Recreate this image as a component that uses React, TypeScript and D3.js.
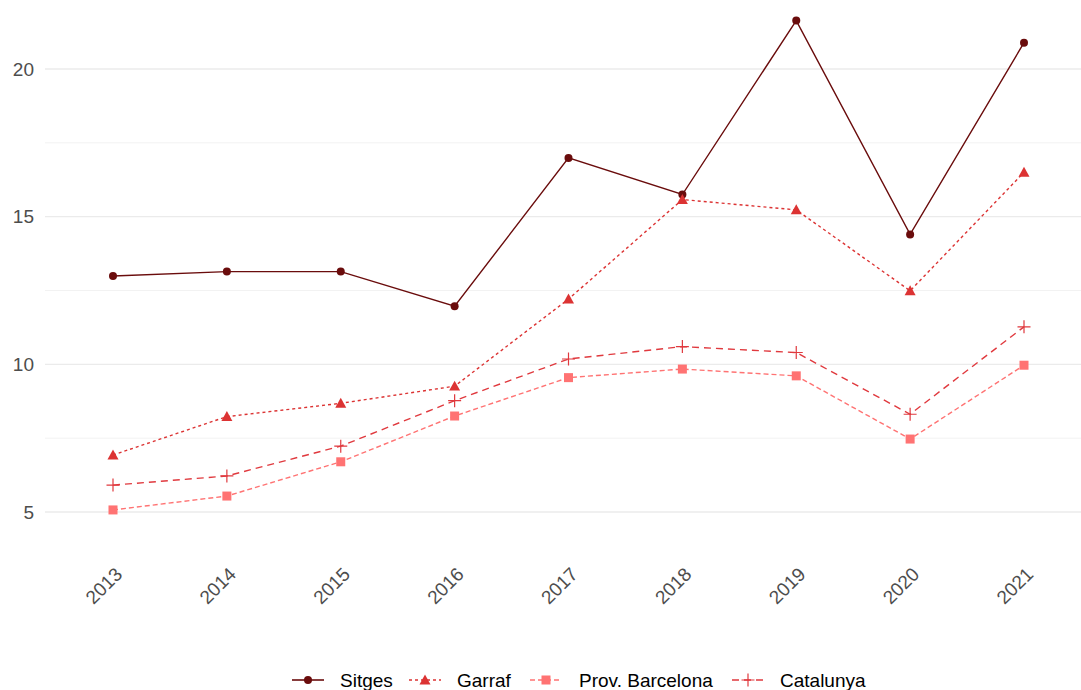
import React from "react";
import * as d3 from "d3";

const years = ["2013", "2014", "2015", "2016", "2017", "2018", "2019", "2020", "2021"];
const sitges = [12.99, 13.14, 13.14, 11.97, 16.99, 15.75, 21.64, 14.4, 20.89];
const garraf = [6.93, 8.23, 8.68, 9.26, 12.21, 15.58, 15.23, 12.49, 16.5];
const provBarcelona = [5.07, 5.54, 6.7, 8.25, 9.55, 9.84, 9.61, 7.47, 9.97];
const catalunya = [5.91, 6.22, 7.23, 8.77, 10.18, 10.6, 10.4, 8.31, 11.27];
const yTicks = [5, 10, 15, 20];
const yMinor = [7.5, 12.5, 17.5];

type Shape = "circle" | "triangle" | "square" | "cross";
const seriesList: { name: string; values: number[]; color: string; dash: string; shape: Shape }[] = [
  { name: "Sitges", values: sitges, color: "#6A0C0C", dash: "", shape: "circle" },
  { name: "Garraf", values: garraf, color: "#DC3333", dash: "3,3", shape: "triangle" },
  { name: "Prov. Barcelona", values: provBarcelona, color: "#FF7373", dash: "5,3", shape: "square" },
  { name: "Catalunya", values: catalunya, color: "#E0393E", dash: "7,5", shape: "cross" },
];

const W = 1081;
const H = 690;
const panelLeft = 45;
const panelRight = 1081;

function Marker({ shape, x, y, color }: { shape: Shape; x: number; y: number; color: string }) {
  if (shape === "circle") return <circle cx={x} cy={y} r={4} fill={color} />;
  if (shape === "triangle") {
    const s = 5.5;
    return <path d={`M${x},${y - s}L${x + s},${y + s * 0.8}L${x - s},${y + s * 0.8}Z`} fill={color} />;
  }
  if (shape === "square") return <rect x={x - 4.5} y={y - 4.5} width={9} height={9} fill={color} />;
  const a = 6.5;
  return (
    <path d={`M${x - a},${y}H${x + a}M${x},${y - a}V${y + a}`} stroke={color} strokeWidth={1.2} fill="none" />
  );
}

export default function App() {
  const x = d3.scalePoint<string>().domain(years).range([113, 1024]);
  const y = d3.scaleLinear().domain([5, 20]).range([512, 69]);
  const line = d3
    .line<number>()
    .x((_, i) => x(years[i]) as number)
    .y((v) => y(v));

  const legendItems = [
    { keyX: 292, textX: 340 },
    { keyX: 409, textX: 457 },
    { keyX: 530, textX: 579 },
    { keyX: 732, textX: 780 },
  ];
  const legendY = 680;

  return (
    <div style={{ position: "absolute", left: 0, top: 0 }}>
      <svg width={W} height={H} style={{ display: "block", background: "#fff" }} fontFamily="Liberation Sans, Arial, sans-serif">
        <rect width={W} height={H} fill="#fff" />
        {yMinor.map((t) => (
          <line key={"m" + t} x1={panelLeft} x2={panelRight} y1={y(t)} y2={y(t)} stroke="#f2f2f2" strokeWidth={1} />
        ))}
        {yTicks.map((t) => (
          <line key={"g" + t} x1={panelLeft} x2={panelRight} y1={y(t)} y2={y(t)} stroke="#ebebeb" strokeWidth={1.3} />
        ))}
        {yTicks.map((t) => (
          <text key={"t" + t} x={34} y={y(t)} dy="0.35em" textAnchor="end" fontSize={19} fill="#4d4d4d">
            {t}
          </text>
        ))}
        {years.map((yr) => (
          <text
            key={yr}
            transform={`translate(${(x(yr) as number) + 1},${566}) rotate(-45)`}
            textAnchor="end"
            dy="0.7em"
            fontSize={19}
            fill="#4d4d4d"
          >
            {yr}
          </text>
        ))}
        {seriesList.map((s) => (
          <g key={s.name}>
            <path d={line(s.values) || ""} fill="none" stroke={s.color} strokeWidth={1.4} strokeDasharray={s.dash} />
            {s.values.map((v, i) => (
              <Marker key={i} shape={s.shape} x={x(years[i]) as number} y={y(v)} color={s.color} />
            ))}
          </g>
        ))}
        {seriesList.map((s, i) => {
          const it = legendItems[i];
          return (
            <g key={"l" + s.name}>
              <line
                x1={it.keyX}
                x2={it.keyX + 32}
                y1={legendY}
                y2={legendY}
                stroke={s.color}
                strokeWidth={1.6}
                strokeDasharray={s.dash}
              />
              <Marker shape={s.shape} x={it.keyX + 16} y={legendY} color={s.color} />
              <text x={it.textX} y={legendY} dy="0.36em" fontSize={19} fill="#000">
                {s.name}
              </text>
            </g>
          );
        })}
      </svg>
    </div>
  );
}
